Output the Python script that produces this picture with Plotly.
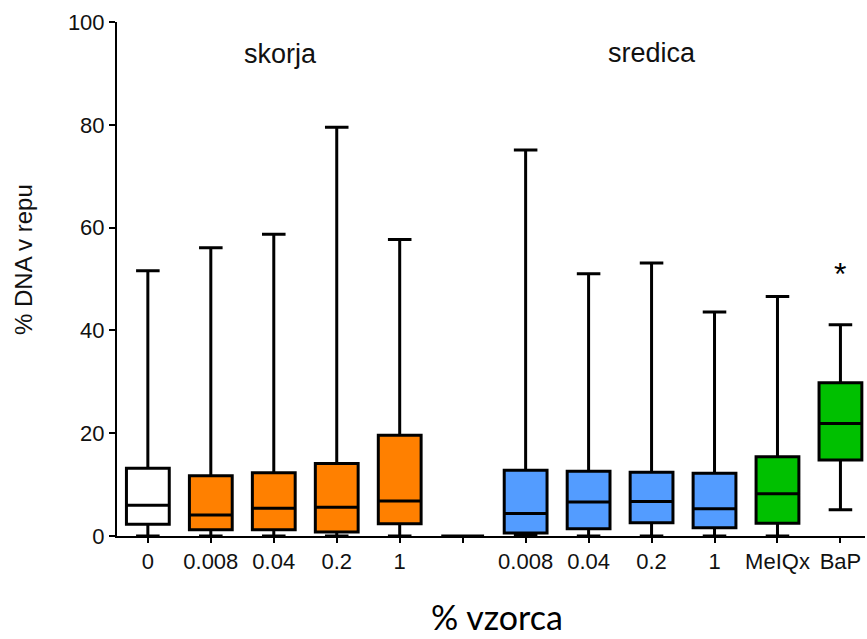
import plotly.graph_objects as go

categories = ["0", "0.008", "0.04", "0.2", "1", "", "0.008", "0.04", "0.2", "1", "MeIQx", "BaP"]
lower = [0, 0, 0, 0, 0, 0, 0, 0, 0, 0, 0, 5.1]
q1 = [2.3, 1.2, 1.2, 0.8, 2.4, 0, 0.6, 1.4, 2.6, 1.6, 2.5, 14.8]
median = [6.0, 4.1, 5.4, 5.6, 6.8, 0, 4.4, 6.6, 6.7, 5.3, 8.2, 21.9]
q3 = [13.2, 11.7, 12.3, 14.1, 19.6, 0, 12.8, 12.6, 12.4, 12.2, 15.4, 29.8]
upper = [51.6, 56.1, 58.7, 79.5, 57.7, 0, 75.1, 51.0, 53.1, 43.6, 46.6, 41.1]
fills = ["#FFFFFF", "#FF8000", "#FF8000", "#FF8000", "#FF8000", "#FFFFFF",
         "#539CFF", "#539CFF", "#539CFF", "#539CFF", "#00C000", "#00C000"]
group_labels = ["skorja", "sredica"]
y_ticks = [0, 20, 40, 60, 80, 100]

fig = go.Figure()
for i in range(len(categories)):
    fig.add_trace(go.Box(
        x=[i], q1=[q1[i]], median=[median[i]], q3=[q3[i]],
        lowerfence=[lower[i]], upperfence=[upper[i]],
        fillcolor=fills[i], line=dict(color="black", width=3),
        width=0.68, whiskerwidth=0.55, boxpoints=False,
        showlegend=False, hoverinfo="skip"))

fig.add_annotation(x=2.1, y=93.7, text=group_labels[0], showarrow=False,
                   font=dict(family="Liberation Sans, Arial", size=27, color="#111"),
                   xref="x", yref="y")
fig.add_annotation(x=8.0, y=94, text=group_labels[1], showarrow=False,
                   font=dict(family="Liberation Sans, Arial", size=27, color="#111"),
                   xref="x", yref="y")
fig.add_annotation(x=11, y=51, text="*", showarrow=False,
                   font=dict(family="Liberation Sans, Arial", size=32, color="black"),
                   xref="x", yref="y")
fig.add_annotation(x=(497 - 117) / 748, y=-(638 - 536) / 514, xref="paper", yref="paper",
                   text="% vzorca", showarrow=False, xanchor="center", yanchor="bottom",
                   borderpad=0,
                   font=dict(family="Lato", size=34, color="black"))
fig.add_annotation(x=(23 - 117) / 748, y=(536 - 260) / 514, xref="paper", yref="paper",
                   text="% DNA v repu", showarrow=False, textangle=-90,
                   xanchor="center", yanchor="middle",
                   font=dict(family="Liberation Sans, Arial", size=24, color="#111"))

fig.update_layout(
    width=867, height=639,
    margin=dict(l=117, r=2, t=22, b=103),
    plot_bgcolor="white", paper_bgcolor="white",
    font=dict(family="Liberation Sans, Arial", color="#111"),
    xaxis=dict(range=[-0.49, 11.39], tickmode="array",
               tickvals=list(range(len(categories))), ticktext=categories,
               showline=True, linecolor="black", linewidth=2,
               ticks="outside", ticklen=5, tickwidth=2, tickcolor="black",
               showgrid=False, zeroline=False, automargin=False,
               tickfont=dict(size=22)),
    yaxis=dict(range=[0, 100], tickvals=y_ticks,
               showline=True, linecolor="black", linewidth=2,
               ticks="outside", ticklen=6, tickwidth=2, tickcolor="black",
               showgrid=False, zeroline=False, automargin=False,
               tickfont=dict(size=22)),
)

fig.write_html("out.html", config={"displayModeBar": False},
               post_script="document.body.style.margin='0';document.body.style.overflow='hidden';")
